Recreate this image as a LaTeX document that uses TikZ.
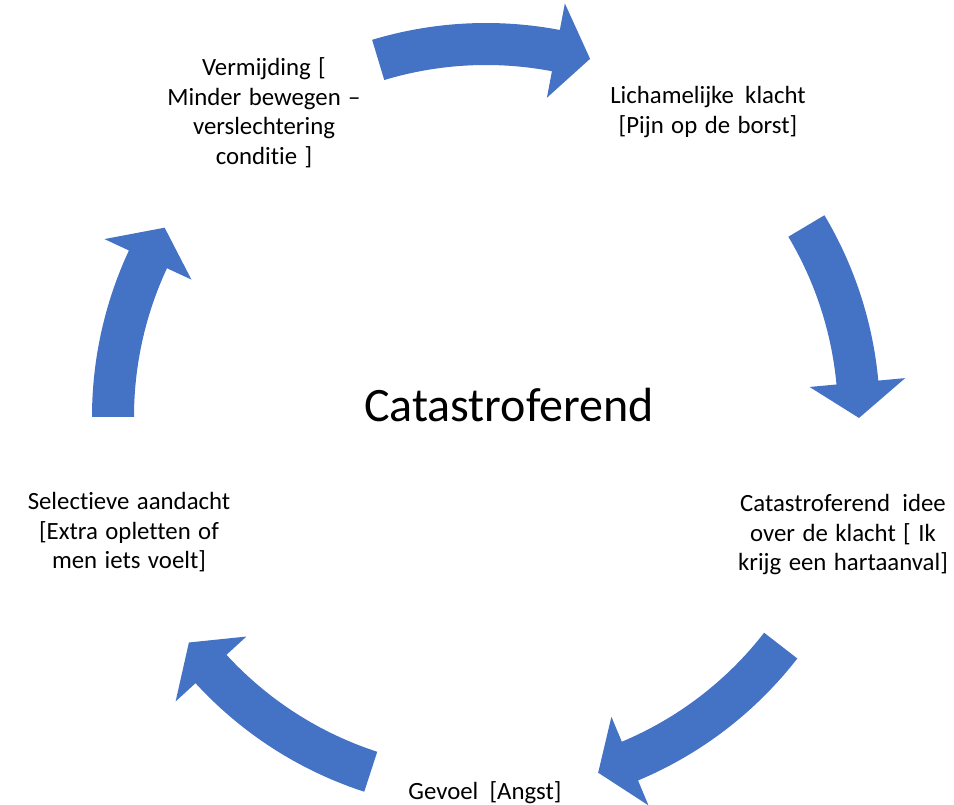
\documentclass[tikz,border=0pt]{standalone}
\usepackage{fontspec}
\setmainfont{Carlito}[Ligatures={NoCommon}]
\definecolor{arrowblue}{HTML}{4472C4}
\newcommand\lblfont{\fontsize{24.8}{29.5}\selectfont\spaceskip=0.3em plus 0.1em minus 0.05em\relax}
\tikzset{
  cyc/.style={fill=arrowblue, draw=none},
  lbl/.style={font=\lblfont, align=center, anchor=base, inner sep=0pt},
  bigl/.style={font=\fontsize{48}{57}\selectfont, anchor=base, inner sep=0pt}
}
\newcommand\cycarrow[3]{%
  \fill[cyc] (#1:394) arc[start angle=#1,end angle=#2,radius=394]
    -- (#2:421) -- (#3:373) -- (#2:325) -- (#2:352)
    arc[start angle=#2,end angle=#1,radius=352] -- cycle;}
\begin{document}
\begin{tikzpicture}[x=1pt,y=1pt]
\useasboundingbox (0,0) rectangle (954,805);
\begin{scope}[shift={(486,388)}]
  \cycarrow{106.8}{79.2}{73.8}
  \cycarrow{30.8}{5.3}{-0.15}
  \cycarrow{-37.8}{-67.3}{-72.5}
  \cycarrow{-108}{-137.5}{-142.8}
  \cycarrow{180}{155}{149.5}
\end{scope}
\node[lbl] (klacht) at (708,671.5) {Lichamelijke\hspace{0.15em} klacht\\{[}Pijn op de borst{]}};
\node[lbl] (vermijding) at (264,640.5) {Vermijding [\\Minder bewegen –\\verslechtering\\conditie ]};
\node[lbl] (idee) at (843,234) {Catastroferend\hspace{0.2em} idee\\over de klacht [ Ik\\krijg een hartaanval]};
\node[lbl] (aandacht) at (129,236) {Selectieve aandacht\\{[}Extra opletten of\\men iets voelt]};
\node[lbl] (gevoel) at (485,5) {Gevoel\hspace{0.15em} [Angst]};
\node[bigl] (centre) at (509,383) {Catastroferend};
\end{tikzpicture}
\end{document}
